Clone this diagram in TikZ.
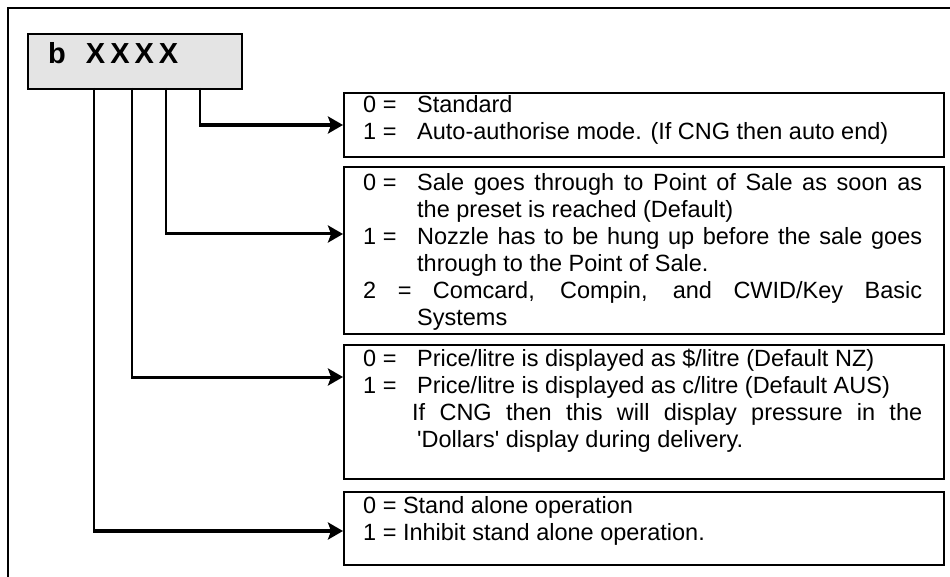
\documentclass[tikz,border=0pt]{standalone}
\usepackage{fontspec}
\setmainfont{Liberation Sans}[Ligatures=TeXOff]
\usetikzlibrary{arrows.meta,calc}
\definecolor{titlegray}{RGB}{228,228,228}
\newcommand\myopt[2]{\makebox[54pt][l]{#1}#2\par}
\newcommand\myoptj[2]{\makebox[54pt][l]{#1}\makebox[505pt][s]{#2}\par}
\newcommand\mycont[1]{\hspace*{54pt}#1\par}
\newcommand\boxtext[1]{\parbox[t]{575pt}{\fontsize{23.5}{27}\selectfont\raggedright\setlength\parindent{0pt}#1}}
\tikzset{
  frameline/.style={line width=2pt, black},
  titlebox/.style={draw, line width=2pt, fill=titlegray, rectangle, inner sep=0pt, anchor=north west},
  optbox/.style={draw, line width=2pt, rectangle, inner sep=0pt, anchor=north west, minimum width=600pt},
  txt/.style={inner sep=0pt, anchor=base west},
  conn/.style={line width=2pt},
  bigarrow/.style={line width=4.5pt, -{Stealth[length=15pt,width=17pt,inset=3pt]}},
  midarrow/.style={line width=3pt, -{Stealth[length=15pt,width=17pt,inset=3pt]}},
}
\begin{document}
\begin{tikzpicture}[x=1pt,y=-1pt]
\useasboundingbox (0,0) rectangle (950,577);
% outer frame (only top and left edges visible)
\coordinate (fTL) at (8,8);
\coordinate (fTR) at (950,8);
\coordinate (fBL) at (8,577);
\draw[frameline] (fTR) -- (fTL) -- (fBL);
% title box
\node[titlebox, minimum width=214pt, minimum height=55pt] (title) at (27,33) {};
\node[txt] (titletext) at (48,64) {\fontsize{29}{29}\selectfont\bfseries b\hspace{20pt}X\kern5pt X\kern5pt X\kern5pt X};
% option boxes
\node[optbox, minimum height=64pt] (b1) at (343,92) {};
\node[optbox, minimum height=167pt] (b2) at (343,166) {};
\node[optbox, minimum height=134pt] (b3) at (343,344) {};
\node[optbox, minimum height=73pt] (b4) at (343,491) {};
% texts
\node[txt] (t1) at (363,113) {\boxtext{%
\myopt{0 =}{Standard}
\myopt{1 =}{Auto-authorise mode. (If CNG then auto end)}}};
\node[txt] (t2) at (363,191) {\boxtext{%
\myoptj{0 =}{Sale goes through to Point of Sale as soon as}
\mycont{the preset is reached (Default)}
\myoptj{1 =}{Nozzle has to be hung up before the sale goes}
\mycont{through to the Point of Sale.}
\makebox[559pt][s]{2 = Comcard, Compin, and CWID/Key Basic}\par
\mycont{Systems}}};
\node[txt] (t3) at (363,366) {\boxtext{%
\myopt{0 =}{Price/litre is displayed as \$/litre (Default NZ)}
\myopt{1 =}{Price/litre is displayed as c/litre (Default AUS)}
\hspace*{49pt}\makebox[510pt][s]{If CNG then this will display pressure in the}\par
\mycont{'Dollars' display during delivery.}}};
\node[txt] (t4) at (363,513) {\boxtext{%
0 = Stand alone operation\par
1 = Inhibit stand alone operation.}};
% connector start points on the title box
\coordinate (c1) at (200,88);
\coordinate (c2) at (166,88);
\coordinate (c3) at (132,88);
\coordinate (c4) at (94,88);
% bends
\coordinate (k1) at ($(c1 |- b1.north west)+(0,33)$);
\coordinate (k2) at ($(c2 |- b2.north west)+(0,68)$);
\coordinate (k3) at ($(c3 |- b3.north west)+(0,33)$);
\coordinate (k4) at ($(c4 |- b4.north west)+(0,40)$);
\draw[conn] (c1) -- (k1);
\draw[conn] (c2) -- (k2);
\draw[conn] (c3) -- (k3);
\draw[conn] (c4) -- (k4);
\draw[bigarrow] ($(k1)+(-1,0)$) -- (k1 -| b1.west);
\draw[midarrow] ($(k2)+(-1,0)$) -- (k2 -| b2.west);
\draw[midarrow] ($(k3)+(-1,0)$) -- (k3 -| b3.west);
\draw[bigarrow] ($(k4)+(-1,0)$) -- (k4 -| b4.west);
\end{tikzpicture}
\end{document}
